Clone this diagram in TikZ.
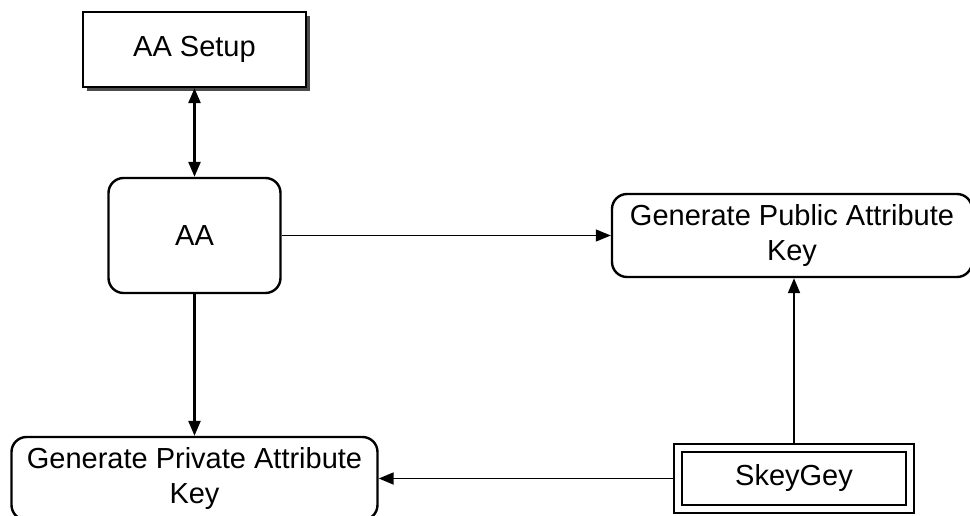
\documentclass[tikz,border=0pt]{standalone}
\usepackage{fontspec}
\setmainfont{Liberation Sans}
\usepackage{tikz}
\usetikzlibrary{arrows.meta,shadows,positioning,fit}

\begin{document}
\begin{tikzpicture}[x=1pt,y=-1pt,
  >={Triangle[length=15pt,width=12pt]},
  every node/.style={font=\fontsize{29}{35}\selectfont, align=center, inner sep=0pt},
  roundbox/.style={draw, line width=2.4pt, rounded corners=15pt},
  setupbox/.style={draw, line width=2.4pt, fill=white,
     drop shadow={shadow xshift=4pt, shadow yshift=-4pt, fill=black!70, opacity=1}},
  skeybox/.style={draw, line width=2.6pt},
  skeyframe/.style={draw, line width=1.8pt, inner sep=7pt}]
  \useasboundingbox (0,0) rectangle (970,516);

  \node[setupbox, minimum width=223pt, minimum height=75pt] (setup) at (194.5,49.5) {AA Setup};
  \node[roundbox, minimum width=172pt, minimum height=115pt] (aa) at (194.5,235.5) {AA};
  \node[roundbox, minimum width=360pt, minimum height=83pt] (pub) at (792,235.5) {Generate Public Attribute\\Key};
  \node[roundbox, minimum width=366pt, minimum height=83pt] (priv) at (194.5,478.5) {Generate Private Attribute\\Key};
  \node[skeybox, minimum width=224pt, minimum height=53pt] (skey) at (794,478.5) {SkeyGey};
  \node[skeyframe, fit=(skey)] (skeyout) {};

  % connectors
  \draw[<->, line width=2.6pt] (setup) -- (aa);
  \draw[->, line width=1.3pt] (aa) -- (pub);
  \draw[->, line width=2.4pt] (aa) -- (priv);
  \draw[->, line width=1.8pt] (skeyout) -- (priv);
  \draw[->, line width=1.8pt] (skeyout.north) -- (skeyout.north |- pub.south);
\end{tikzpicture}
\end{document}
